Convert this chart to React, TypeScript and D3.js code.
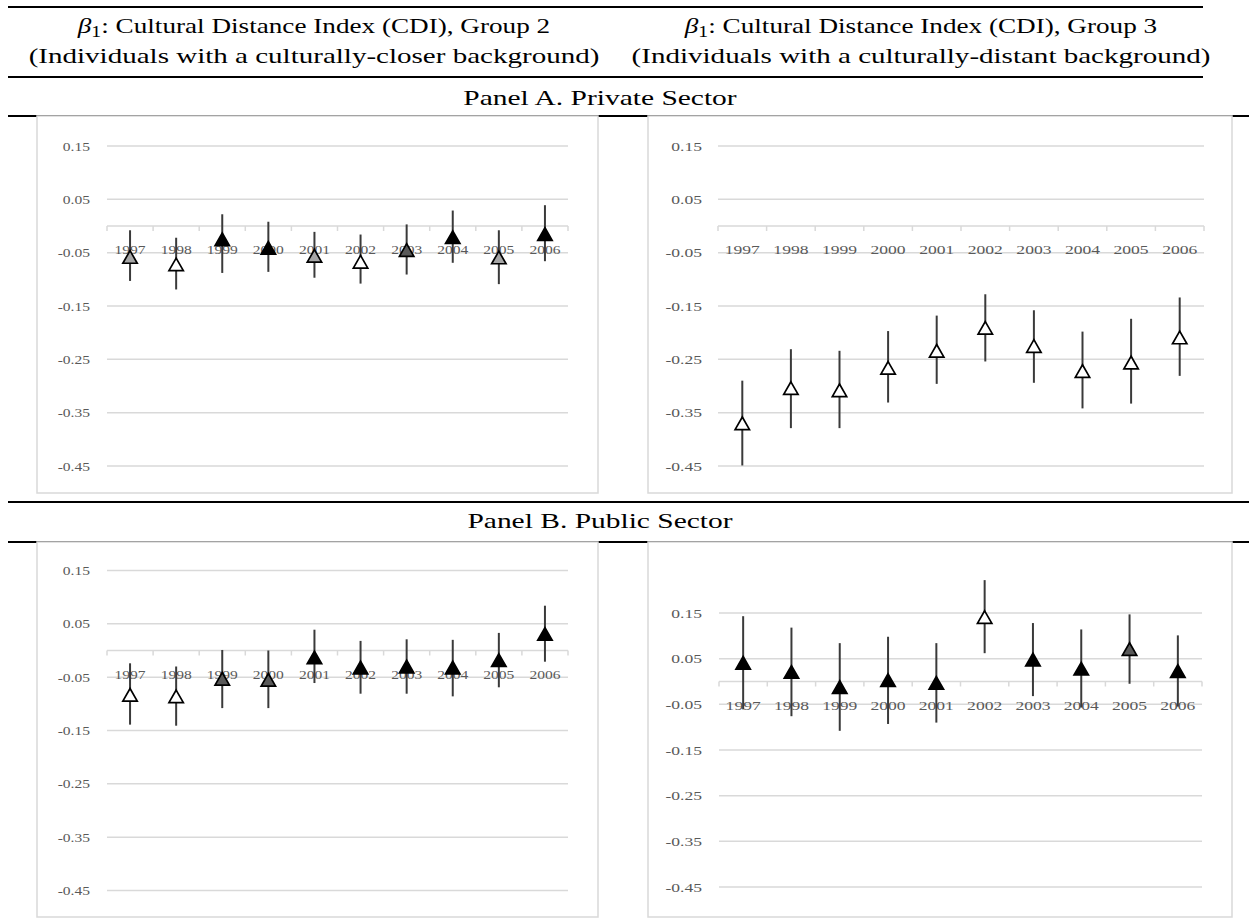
import React from 'react';
import * as d3 from 'd3';

// ---------- data ----------
const years = ['1997', '1998', '1999', '2000', '2001', '2002', '2003', '2004', '2005', '2006'];
const yTicks = [0.15, 0.05, -0.05, -0.15, -0.25, -0.35, -0.45];

// significance class: 0 = white, 1 = light grey, 2 = dark grey, 3 = black
// Panel A, Group 2 (private sector, culturally-closer)
const privG2Est = [-0.058, -0.072, -0.025, -0.041, -0.056, -0.067, -0.045, -0.021, -0.059, -0.015];
const privG2Hi = [-0.008, -0.022, 0.022, 0.008, -0.011, -0.016, 0.003, 0.029, -0.008, 0.039];
const privG2Lo = [-0.103, -0.119, -0.088, -0.086, -0.097, -0.108, -0.091, -0.069, -0.109, -0.066];
const privG2Sig = [1, 0, 3, 3, 1, 0, 2, 3, 1, 3];

// Panel A, Group 3 (private sector, culturally-distant)
const privG3Est = [-0.37, -0.304, -0.308, -0.266, -0.234, -0.191, -0.225, -0.272, -0.256, -0.209];
const privG3Hi = [-0.29, -0.231, -0.234, -0.197, -0.168, -0.128, -0.158, -0.198, -0.174, -0.134];
const privG3Lo = [-0.449, -0.379, -0.379, -0.331, -0.296, -0.254, -0.294, -0.342, -0.333, -0.281];
const privG3Sig = [0, 0, 0, 0, 0, 0, 0, 0, 0, 0];

// Panel B, Group 2 (public sector, culturally-closer)
const pubG2Est = [-0.083, -0.086, -0.053, -0.055, -0.013, -0.032, -0.03, -0.032, -0.018, 0.031];
const pubG2Hi = [-0.024, -0.03, 0.001, 0.0, 0.039, 0.018, 0.021, 0.02, 0.033, 0.084];
const pubG2Lo = [-0.139, -0.141, -0.108, -0.108, -0.061, -0.081, -0.081, -0.086, -0.069, -0.021];
const pubG2Sig = [0, 0, 2, 2, 3, 3, 3, 3, 3, 3];

// Panel B, Group 3 (public sector, culturally-distant)
const pubG3Est = [0.041, 0.021, -0.012, 0.003, -0.003, 0.141, 0.048, 0.028, 0.071, 0.023];
const pubG3Hi = [0.143, 0.118, 0.084, 0.098, 0.084, 0.222, 0.128, 0.114, 0.147, 0.101];
const pubG3Lo = [-0.061, -0.076, -0.108, -0.093, -0.09, 0.062, -0.032, -0.057, -0.005, -0.055];
const pubG3Sig = [3, 3, 3, 3, 3, 0, 3, 3, 2, 3];

const headerLeft1 = ': Cultural Distance Index (CDI), Group 2';
const headerLeft2 = '(Individuals with a culturally-closer background)';
const headerRight1 = ': Cultural Distance Index (CDI), Group 3';
const headerRight2 = '(Individuals with a culturally-distant background)';
const panelATitle = 'Panel A. Private Sector';
const panelBTitle = 'Panel B. Public Sector';

// ---------- styles ----------
const SIG_FILL = ['#ffffff', '#a6a6a6', '#595959', '#000000'];
const GRID = '#d9d9d9';
const LABEL = '#595959';
const CHART_FONT = "'Liberation Serif', serif";
const HEAD_FONT = "'Liberation Serif', serif";

type PanelProps = {
  frame: { x: number; y: number; w: number; h: number };
  x0: number;
  x1: number;
  yTop: number;
  yBot: number;
  sx: number;
  labelRight: number;
  est: number[];
  hi: number[];
  lo: number[];
  sig: number[];
};

function Panel(p: PanelProps) {
  const y = d3.scaleLinear().domain([-0.45, 0.15]).range([p.yBot, p.yTop]);
  const x = d3.scaleBand<string>().domain(years).range([p.x0, p.x1]);
  const bw = x.bandwidth();
  const y0 = y(0);
  const fmt = (v: number) => (v < 0 ? '-' : '') + Math.abs(v).toFixed(2);
  return (
    <g>
      <rect x={p.frame.x} y={p.frame.y} width={p.frame.w} height={p.frame.h} fill="#fff" stroke={GRID} strokeWidth={1.5} />
      {yTicks.map((t) => (
        <line key={'g' + t} x1={p.x0} x2={p.x1} y1={y(t)} y2={y(t)} stroke={GRID} strokeWidth={1.5} />
      ))}
      {yTicks.map((t) => (
        <text
          key={'l' + t}
          transform={`translate(${p.labelRight},${y(t) + 4.5}) scale(${p.sx},1)`}
          textAnchor="end"
          fontFamily={CHART_FONT}
          fontSize={13.5}
          fill={LABEL}
        >
          {fmt(t)}
        </text>
      ))}
      <line x1={p.x0} x2={p.x1} y1={y0} y2={y0} stroke={GRID} strokeWidth={1.5} />
      {d3.range(years.length + 1).map((i) => (
        <line key={'t' + i} x1={p.x0 + i * bw} x2={p.x0 + i * bw} y1={y0} y2={y0 + 5} stroke={GRID} strokeWidth={1.5} />
      ))}
      {years.map((yr) => (
        <text
          key={'x' + yr}
          transform={`translate(${(x(yr) as number) + bw / 2},${y0 + 28}) scale(${p.sx},1)`}
          textAnchor="middle"
          fontFamily={CHART_FONT}
          fontSize={13.5}
          fill={LABEL}
        >
          {yr}
        </text>
      ))}
      {years.map((yr, i) => (
        <line
          key={'e' + yr}
          x1={(x(yr) as number) + bw / 2}
          x2={(x(yr) as number) + bw / 2}
          y1={y(p.hi[i])}
          y2={y(p.lo[i])}
          stroke="#3a3a3a"
          strokeWidth={2}
        />
      ))}
      {years.map((yr, i) => (
        <path
          key={'m' + yr}
          transform={`translate(${(x(yr) as number) + bw / 2},${y(p.est[i])})`}
          d="M0,-6.3L7.2,6.3L-7.2,6.3Z"
          fill={SIG_FILL[p.sig[i]]}
          stroke="#000"
          strokeWidth={1.7}
          strokeLinejoin="miter"
        />
      ))}
    </g>
  );
}

function Header({ cx, line1, line2 }: { cx: number; line1: string; line2: string }) {
  return (
    <g fontFamily={HEAD_FONT} fontSize={22} fill="#000">
      <text transform={`translate(${cx},33) scale(1.235,1)`} textAnchor="middle">
        <tspan fontStyle="italic">β</tspan>
        <tspan fontSize={16} dy={4}>1</tspan>
        <tspan dy={-4}>{line1}</tspan>
      </text>
      <text transform={`translate(${cx},63) scale(1.32,1)`} textAnchor="middle">
        {line2}
      </text>
    </g>
  );
}

export default function App() {
  return (
    <svg
      width={1249}
      height={920}
      style={{ position: 'absolute', left: 0, top: 0, background: '#fff' }}
    >
      {/* rules */}
      <line x1={8} x2={1203} y1={7} y2={7} stroke="#000" strokeWidth={2} />
      <line x1={8} x2={1203} y1={77} y2={77} stroke="#000" strokeWidth={2} />
      <line x1={8} x2={1249} y1={116} y2={116} stroke="#000" strokeWidth={2} />
      <line x1={8} x2={1249} y1={502} y2={502} stroke="#000" strokeWidth={2} />
      <line x1={8} x2={1249} y1={542} y2={542} stroke="#000" strokeWidth={2} />

      <Header cx={314} line1={headerLeft1} line2={headerLeft2} />
      <Header cx={921} line1={headerRight1} line2={headerRight2} />

      <text transform="translate(600,105) scale(1.34,1)" textAnchor="middle" fontFamily={HEAD_FONT} fontSize={22}>
        {panelATitle}
      </text>
      <text transform="translate(600,528) scale(1.34,1)" textAnchor="middle" fontFamily={HEAD_FONT} fontSize={22}>
        {panelBTitle}
      </text>

      <Panel
        frame={{ x: 37, y: 116, w: 561, h: 377 }}
        x0={107}
        x1={568}
        yTop={146}
        yBot={466}
        sx={1.15}
        labelRight={90}
        est={privG2Est}
        hi={privG2Hi}
        lo={privG2Lo}
        sig={privG2Sig}
      />
      <Panel
        frame={{ x: 648, y: 116, w: 584, h: 377 }}
        x0={718}
        x1={1204}
        yTop={146}
        yBot={466}
        sx={1.3}
        labelRight={702}
        est={privG3Est}
        hi={privG3Hi}
        lo={privG3Lo}
        sig={privG3Sig}
      />
      <Panel
        frame={{ x: 37, y: 542, w: 561, h: 375 }}
        x0={107}
        x1={568}
        yTop={570.5}
        yBot={890.5}
        sx={1.15}
        labelRight={90}
        est={pubG2Est}
        hi={pubG2Hi}
        lo={pubG2Lo}
        sig={pubG2Sig}
      />
      <Panel
        frame={{ x: 648, y: 542, w: 584, h: 375 }}
        x0={719}
        x1={1202}
        yTop={613}
        yBot={887}
        sx={1.3}
        labelRight={702}
        est={pubG3Est}
        hi={pubG3Hi}
        lo={pubG3Lo}
        sig={pubG3Sig}
      />
    </svg>
  );
}
